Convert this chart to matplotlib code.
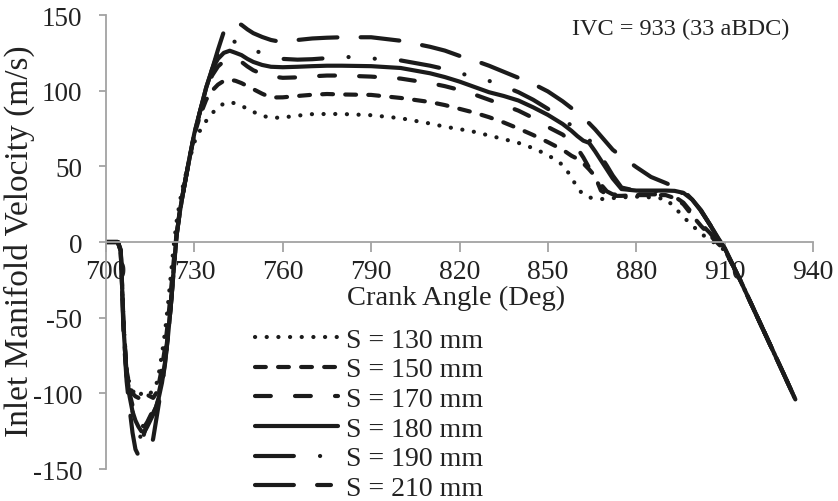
import matplotlib
matplotlib.use('Agg')
import matplotlib.pyplot as plt
from matplotlib.lines import Line2D

plt.rcParams['font.family'] = 'Liberation Serif'
plt.rcParams['axes.unicode_minus'] = False
plt.rcParams['lines.scale_dashes'] = False

# crank angle grid (deg)
crank = [700, 704, 705, 706, 707, 708, 709, 710, 711, 712,
         713, 714, 715, 716, 717, 718, 719, 720, 721, 722,
         723, 724, 725, 726, 728, 730, 732, 734, 736, 738,
         740, 742, 744, 746, 748, 750, 753, 756, 760, 765,
         770, 775, 780, 790, 800, 810, 815, 820, 825, 830,
         835, 840, 845, 850, 855, 858, 860, 862, 864, 866,
         868, 870, 872, 875, 880, 885, 890, 893, 896, 899,
         902, 905, 908, 910, 915, 920, 925, 930, 934]

# inlet manifold velocity (m/s) for each runner length
s130 = [0, 0, -5, -55, -84, -94, -98, -101, -102.5, -100,
        -99, -100.5, -100, -98, -95, -86, -74, -60, -42, -22,
        -2, 14, 26, 36, 52, 66, 74, 80, 85, 89,
        91.5, 92.5, 91.5, 90, 88, 86, 83.5, 82, 82.3, 83.5,
        84.5, 84.6, 84.6, 83.8, 81.8, 78.3, 76.2, 74.6, 72.8, 70.4,
        68, 65.5, 62, 57.5, 51, 43, 35.5, 31.5, 29.5, 28.7,
        28.4, 28.5, 29, 29.5, 30, 29.5, 28.5, 23, 16.5, 11,
        5.5, 1.5, -2.5, -5.5, -24, -45, -66, -87, -104]
s150 = [0, 0, -5, -56, -85, -95, -100, -102, -103, -102,
        -100, -101, -102, -103, -100, -93, -83, -70, -53, -33,
        -12, 6, 20, 31, 52, 71, 84, 94, 100, 104,
        106.5, 107.3, 106.5, 105, 103, 101, 98, 95.5, 95.6, 96.5,
        97.3, 97.8, 97.5, 97.2, 95.2, 92.5, 90.5, 88, 85.5, 82.5,
        79, 75, 70.7, 66, 61, 57, 55, 52, 48, 43.5,
        34, 31.5, 30.5, 30.5, 31, 31, 31, 29, 25, 17.5,
        10.6, 4.5, -1.5, -5, -24, -45, -66, -87, -104]
s170 = [0, 0, -5, -58, -87, -100, -108, -114, -118, -121,
        -122, -119, -115, -111, -106, -99, -90, -78, -61, -40,
        -17, 5, 19, 31, 52, 72, 87, 100, 110, 116,
        119.5, 121, 120.5, 119, 116, 113.5, 111, 109.5, 108.5, 108.8,
        109.5, 110, 110, 109.3, 108, 105, 103, 100.5, 97.5, 94,
        90.5, 86.8, 82, 76, 71, 66, 62, 56, 49, 44.5,
        38, 33.5, 31.5, 31, 31.5, 31.5, 31.5, 30, 26, 19,
        12, 6, -1, -5, -24, -45, -66, -87, -104]
s180 = [0, 0, -5, -58, -88, -102, -112, -118, -122, -125,
        -125.5, -122, -118, -114, -109, -102, -93, -80, -63, -42,
        -18, 5, 19, 31, 52, 72, 87, 102, 114, 121,
        125, 126.4, 125, 123.5, 121, 119, 117, 115.8, 115.5, 115.8,
        116.2, 116.5, 116.5, 116.2, 115, 111.5, 109, 106, 102.5, 99,
        96.5, 93.5, 89, 84, 78, 73.5, 70, 67, 65.5, 60,
        54, 48, 42, 35, 34, 34, 34, 33.8, 32.5, 28,
        21, 11.5, 1.5, -4, -24, -45, -66, -87, -104]
s190 = [0, 0, -6, -60, -88, -100, -112, -120, -126, -130,
        -133, -135.5, -137, -130, -118, -106, -95, -81, -63, -42,
        -18, 5, 19, 31, 52, 72, 87, 102, 114, 125,
        132, 134, 132, 129.5, 127.5, 126.5, 125, 123, 121, 120.5,
        120.8, 121.5, 122.5, 121.3, 120, 116.5, 114.3, 111.5, 109.3, 106.5,
        103, 99, 94, 88, 81, 77, 74.5, 71, 67.5, 62.5,
        56.5, 50.5, 44, 36, 33.8, 33.5, 33.5, 33.2, 32.3, 27.5,
        20.5, 11.5, 2, -4, -24, -45, -66, -87, -104]
s210 = [0, 0, -6, -62, -92, -110, -126, -137, -141, -134,
        -126, -120, -116, -113, -109, -103, -94, -81, -63, -42,
        -18, 5, 19, 31, 52, 72, 87, 102, 114, 127,
        139, 144, 145, 143.5, 140.5, 138, 135.5, 133.5, 132, 133.5,
        134.5, 135, 135.3, 135.3, 133, 129, 126.5, 123, 120, 116.5,
        112.5, 108.5, 104.5, 99.5, 93, 88.5, 85, 81.5, 78.5, 74.5,
        70, 65.5, 61, 56.5, 49.5, 43, 39, 36.5, 34, 28,
        20.5, 11.5, 2, -4, -24, -45, -66, -87, -104]

labels = ['S = 130 mm', 'S = 150 mm', 'S = 170 mm',
          'S = 180 mm', 'S = 190 mm', 'S = 210 mm']

ink = '#1b1b1b'
grey = '#a3a3a3'

# dash patterns in points (lw = 3)
dashes = [(0, (0.1, 8.3)),
          (0, (7.8, 8.8)),
          (0, (11.4, 17.4)),
          '-',
          (0, (28, 18.8, 0.1, 18.8, 0.1, 18.8)),
          (0, (28, 16.7))]

fig = plt.figure(figsize=(8.38, 5.02), dpi=100)
ax = fig.add_axes([0.1265, 0.0637, 0.8437, 0.9044])

series = [s130, s150, s170, s180, s190, s210]
for vals, lab, ls in zip(series, labels, dashes):
    ax.plot(crank, vals, color=ink, lw=3, linestyle=ls, label=lab,
            dash_capstyle='round', solid_capstyle='round',
            dash_joinstyle='round', solid_joinstyle='round')

ax.set_xlim(700, 940)
ax.set_ylim(-150, 150)
ax.set_xticks(range(700, 941, 30))
ax.set_yticks(range(-150, 151, 50))

ax.spines[['top', 'right']].set_visible(False)
ax.spines['bottom'].set_position(('data', 0))
for side in ['left', 'bottom']:
    ax.spines[side].set_color(grey)
    ax.spines[side].set_linewidth(1.3)
ax.set_axisbelow(True)

ax.tick_params(axis='x', direction='out', length=7, width=1.3, color=grey,
               labelsize=20, labelcolor='#222222', pad=5.5)
ax.tick_params(axis='y', direction='out', length=5, width=1.3, color=grey,
               labelsize=19.5, labelcolor='#222222', pad=12)

ax.set_xlabel('Crank Angle (Deg)', fontsize=20.5, color='#222222')
ax.xaxis.set_label_coords(0.495, 0.405)
ax.set_ylabel('Inlet Manifold Velocity (m/s)', fontsize=24, color='#222222')
ax.yaxis.set_label_coords(-0.1, 0.505)

ax.text(0.659, 0.971, 'IVC = 933 (33 aBDC)', transform=ax.transAxes,
        fontsize=17.5, color='#222222', ha='left', va='center')

handles, labs = ax.get_legend_handles_labels()
handles[-1] = Line2D([], [], color=ink, lw=3, dash_capstyle='round',
                     linestyle=(0, (28, 16.7, 10, 16.7)))
ax.legend(handles, labs, loc='upper left', bbox_to_anchor=(0.2107, 0.312),
          frameon=False, fontsize=20, handlelength=3.0, handletextpad=0.29,
          labelspacing=0.15, borderpad=0, borderaxespad=0,
          labelcolor='#222222')

fig.savefig('out.png', dpi=100)
